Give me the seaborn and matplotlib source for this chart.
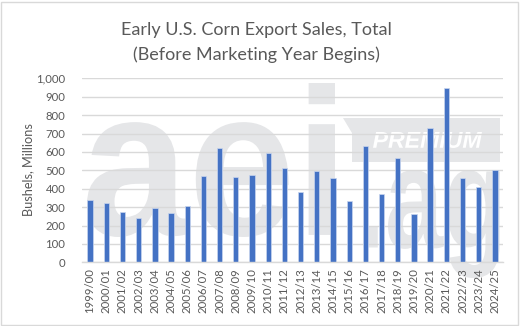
import matplotlib
matplotlib.use("Agg")
import matplotlib.pyplot as plt
import seaborn as sns
import pandas as pd
from matplotlib.textpath import TextPath
from matplotlib.patches import PathPatch, Polygon, Rectangle
from matplotlib.transforms import Affine2D
from matplotlib.font_manager import FontProperties
from matplotlib.ticker import FuncFormatter

# Marketing years and early export sales (million bushels)
seasons = ["1999/00", "2000/01", "2001/02", "2002/03", "2003/04", "2004/05",
           "2005/06", "2006/07", "2007/08", "2008/09", "2009/10", "2010/11",
           "2011/12", "2012/13", "2013/14", "2014/15", "2015/16", "2016/17",
           "2017/18", "2018/19", "2019/20", "2020/21", "2021/22", "2022/23",
           "2023/24", "2024/25"]
sales = [340, 320, 275, 242, 298, 271, 305, 468, 620, 466, 477, 593,
         515, 383, 497, 459, 334, 631, 370, 567, 264, 732, 949, 459,
         410, 504]
y_ticks = list(range(0, 1001, 100))

title_lines = ["Early U.S. Corn Export Sales, Total",
               "(Before Marketing Year Begins)"]
y_label = "Bushels, Millions"

W, H = 520, 326
TEXT = "#595959"
GRID = "#d9d9d9"
BAR = "#4472C4"
MARK = "#e5e6e8"

sns.set_theme(style="white")
plt.rcParams["font.family"] = ["Lato", "DejaVu Sans"]

fig = plt.figure(figsize=(W / 100, H / 100), dpi=100)
fig.patch.set_facecolor("white")


def fig_box(x0, y0, x1, y1):
    """Pixel box (top-down) -> figure fraction rect."""
    return [x0 / W, 1 - y1 / H, (x1 - x0) / W, (y1 - y0) / H]


def stamp(text, box, color, style="normal", zorder=-2):
    """Draw a text outline stretched to fill a pixel box (top-down coords)."""
    fp = FontProperties(family="Liberation Sans", weight="bold", style=style)
    tp = TextPath((0, 0), text, size=1, prop=fp)
    ext = tp.get_extents()
    x0, y0, x1, y1 = box
    sx = (x1 - x0) / ext.width
    sy = (y1 - y0) / ext.height
    tr = (Affine2D().translate(-ext.x0, -ext.y0)
          .scale(sx / W, sy / H)
          .translate(x0 / W, 1 - y1 / H) + fig.transFigure)
    fig.add_artist(PathPatch(tp, transform=tr, facecolor=color,
                             edgecolor="none", zorder=zorder))


# watermark logo behind the plot
stamp("aei", (87, 83, 335, 237), MARK)
stamp(".ag", (363, 170, 500, 278), MARK)
badge = [(343, 118), (500, 118), (500, 162), (352, 162), (352, 133)]
fig.add_artist(Polygon([(x / W, 1 - y / H) for x, y in badge], closed=True,
                       transform=fig.transFigure, facecolor=MARK,
                       edgecolor="none", zorder=-2))
stamp("PREMIUM", (373, 132, 482, 148), "white", style="italic", zorder=-1)

# chart frame
fig.add_artist(Rectangle((1 / W, 1 / H), (W - 3) / W, (H - 3) / H,
                         transform=fig.transFigure, facecolor="none",
                         edgecolor=GRID, linewidth=1.0, zorder=5))

ax = fig.add_axes(fig_box(82, 78.3, 503, 262.4))
ax.set_facecolor("none")

df = pd.DataFrame({"season": seasons, "sales": sales})
sns.barplot(data=df, x="season", y="sales", order=seasons, color=BAR,
            saturation=1, width=0.33, edgecolor="#c9d6ee", linewidth=0.5,
            ax=ax)

ax.set_xlim(-0.5, len(seasons) - 0.5)
ax.set_ylim(0, 1000)
ax.set_yticks(y_ticks)
ax.yaxis.set_major_formatter(FuncFormatter(lambda v, _: f"{int(v):,}"))
ax.yaxis.grid(True, color=GRID, linewidth=1.0)
ax.set_axisbelow(True)
for side in ["top", "right", "left"]:
    ax.spines[side].set_visible(False)
ax.spines["bottom"].set_color(GRID)
ax.spines["bottom"].set_linewidth(1.0)
ax.tick_params(axis="both", length=0, colors=TEXT, labelsize=8.2)
ax.tick_params(axis="y", pad=12)
ax.tick_params(axis="x", pad=4)
plt.setp(ax.get_xticklabels(), rotation=90)
ax.set_xlabel("")
ax.set_ylabel("")

fig.text(28 / W, 1 - 170 / H, y_label, rotation=90, ha="center", va="center",
         color=TEXT, fontsize=9.2)
fig.text(256 / W, 1 - 30 / H, title_lines[0], ha="center", va="center",
         color=TEXT, fontsize=13)
fig.text(256 / W, 1 - 55 / H, title_lines[1], ha="center", va="center",
         color=TEXT, fontsize=13)

fig.savefig("out.png", dpi=100, facecolor="white")
